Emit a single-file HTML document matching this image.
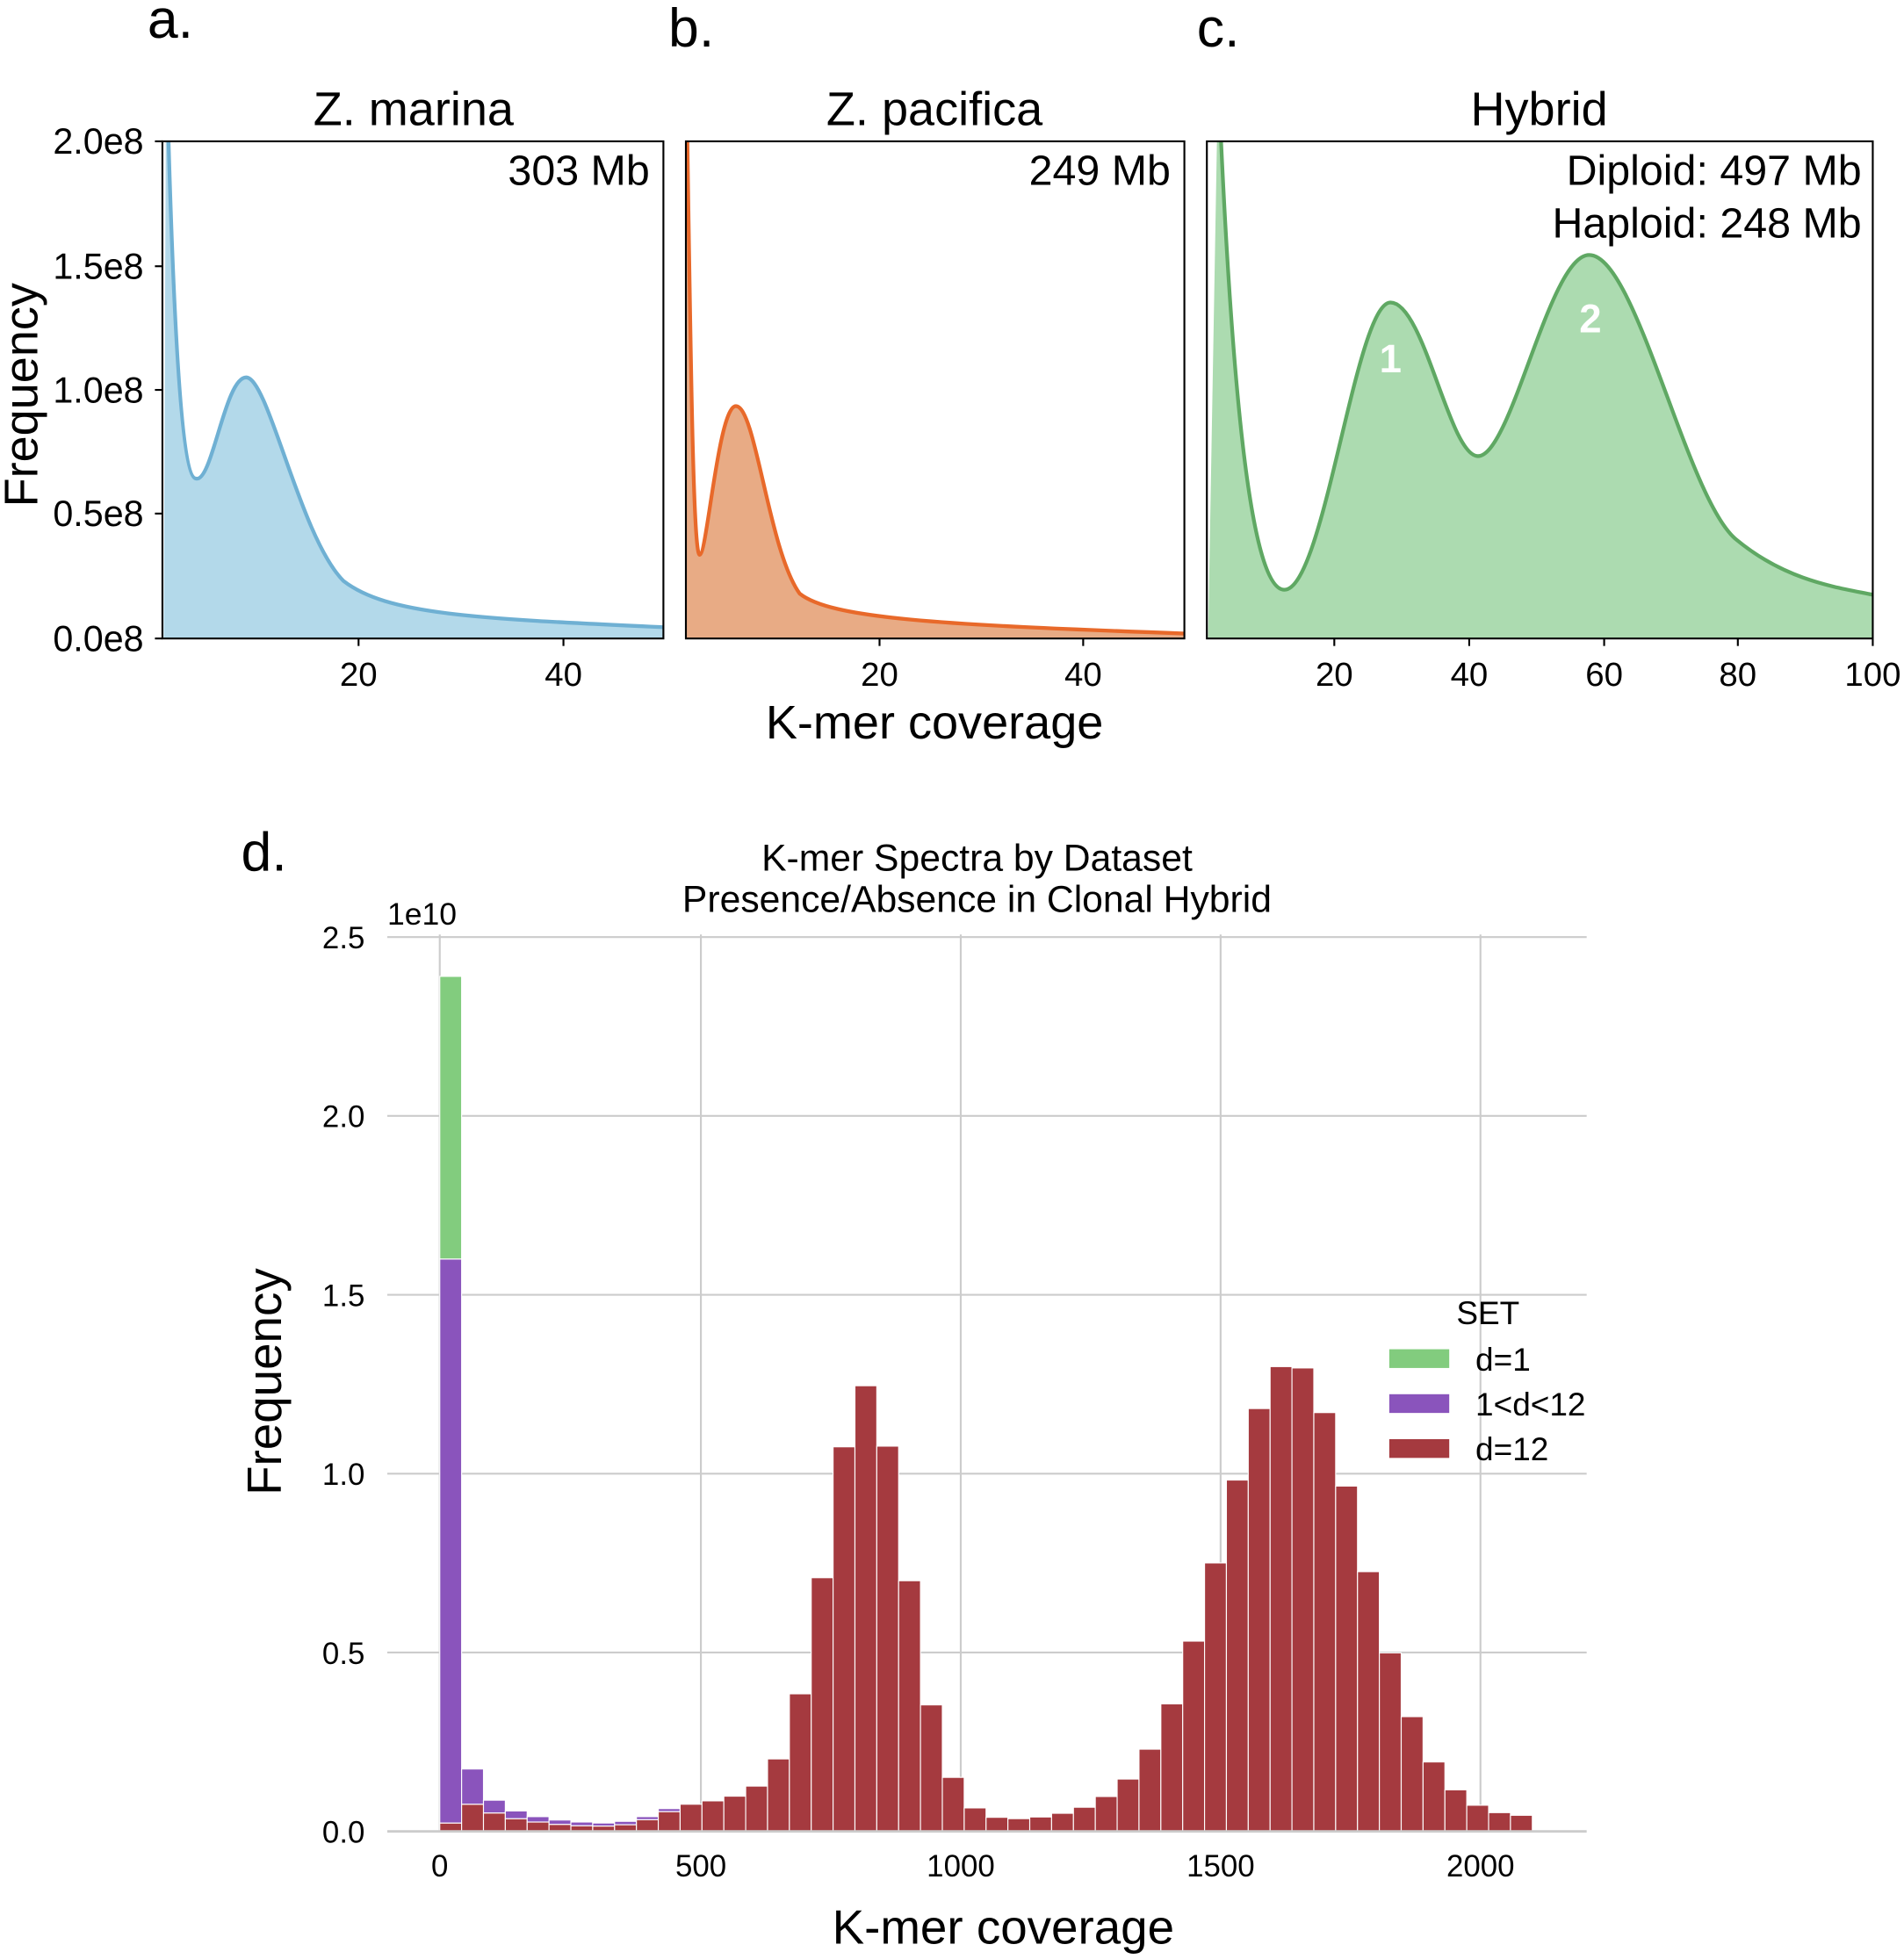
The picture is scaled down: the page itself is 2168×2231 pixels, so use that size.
<!DOCTYPE html>
<html><head><meta charset="utf-8"><style>
html,body{margin:0;padding:0;background:#fff;}
svg{display:block;font-family:"Liberation Sans",sans-serif;}
</style></head><body>
<svg id="s" width="2168" height="2231" viewBox="0 0 1524 1568" xmlns="http://www.w3.org/2000/svg">
<defs>
<clipPath id="ca"><rect x="130" y="113" width="401" height="398"/></clipPath>
<clipPath id="cb"><rect x="549" y="113" width="399" height="398"/></clipPath>
<clipPath id="cc"><rect x="966" y="113" width="533" height="398"/></clipPath>
</defs>
<rect width="1524" height="1568" fill="#fff"/>
<text x="118" y="30" font-size="44">a.</text>
<text x="535" y="37" font-size="44">b.</text>
<text x="958" y="37" font-size="44">c.</text>
<text x="193" y="697" font-size="44">d.</text>
<text x="331" y="100" font-size="38" text-anchor="middle">Z. marina</text>
<text x="748" y="100" font-size="38" text-anchor="middle">Z. pacifica</text>
<text x="1232" y="100" font-size="38" text-anchor="middle">Hybrid</text>
<g clip-path="url(#ca)">
<path d="M133,40 C138,250 145,383 157,383 C170,386 180,302 197,302 C215,302 240,430 275,465 C310,492 380,495 531,502 L531,511 L131,511 Z" fill="#b3d9ea" stroke="none"/>
<path d="M133,40 C138,250 145,383 157,383 C170,386 180,302 197,302 C215,302 240,430 275,465 C310,492 380,495 531,502" fill="none" stroke="#6fb0d3" stroke-width="3"/>
</g>
<rect x="130" y="113" width="401" height="398" fill="none" stroke="#000" stroke-width="1.5"/>
<text x="520" y="148" font-size="34" text-anchor="end">303 Mb</text>
<g clip-path="url(#cb)">
<path d="M550,100 C553,300 555,444 560,444 C566,444 575,325 589,325 C605,325 615,440 640,475 C665,495 750,500 948,507 L948,511 L549,511 Z" fill="#e8ab85"/>
<path d="M550,100 C553,300 555,444 560,444 C566,444 575,325 589,325 C605,325 615,440 640,475 C665,495 750,500 948,507" fill="none" stroke="#e8692a" stroke-width="3"/>
</g>
<rect x="549" y="113" width="399" height="398" fill="none" stroke="#000" stroke-width="1.5"/>
<text x="937" y="148" font-size="34" text-anchor="end">249 Mb</text>
<g clip-path="url(#cc)">
<path d="M975,60 C985,300 1000,472 1028,472 C1060,472 1085,242 1113,242 C1140,242 1160,365 1183,365 C1210,365 1240,204 1272,204 C1310,204 1350,400 1390,432 C1430,465 1470,470 1499,476 L1499,511 L967,511 Z" fill="#acdbb0"/>
<path d="M975,60 C985,300 1000,472 1028,472 C1060,472 1085,242 1113,242 C1140,242 1160,365 1183,365 C1210,365 1240,204 1272,204 C1310,204 1350,400 1390,432 C1430,465 1470,470 1499,476" fill="none" stroke="#5fa863" stroke-width="3"/>
</g>
<rect x="966" y="113" width="533" height="398" fill="none" stroke="#000" stroke-width="1.5"/>
<text x="1490" y="148" font-size="34" text-anchor="end">Diploid: 497 Mb</text>
<text x="1490" y="190" font-size="34" text-anchor="end">Haploid: 248 Mb</text>
<text x="1113" y="298" font-size="32" font-weight="bold" fill="#fff" text-anchor="middle">1</text>
<text x="1273" y="266" font-size="32" font-weight="bold" fill="#fff" text-anchor="middle">2</text>
<g font-size="29" text-anchor="end">
<text x="115" y="123">2.0e8</text><text x="115" y="223">1.5e8</text><text x="115" y="322">1.0e8</text><text x="115" y="421">0.5e8</text><text x="115" y="521">0.0e8</text>
</g>
<g stroke="#000" stroke-width="1.5">
<line x1="124" y1="113" x2="130" y2="113"/><line x1="124" y1="213" x2="130" y2="213"/><line x1="124" y1="312" x2="130" y2="312"/><line x1="124" y1="411" x2="130" y2="411"/><line x1="124" y1="511" x2="130" y2="511"/>
<line x1="287" y1="511" x2="287" y2="517"/><line x1="451" y1="511" x2="451" y2="517"/>
<line x1="704" y1="511" x2="704" y2="517"/><line x1="867" y1="511" x2="867" y2="517"/>
<line x1="1068" y1="511" x2="1068" y2="517"/><line x1="1176" y1="511" x2="1176" y2="517"/><line x1="1284" y1="511" x2="1284" y2="517"/><line x1="1391" y1="511" x2="1391" y2="517"/><line x1="1499" y1="511" x2="1499" y2="517"/>
</g>
<g font-size="27" text-anchor="middle">
<text x="287" y="549">20</text><text x="451" y="549">40</text>
<text x="704" y="549">20</text><text x="867" y="549">40</text>
<text x="1068" y="549">20</text><text x="1176" y="549">40</text><text x="1284" y="549">60</text><text x="1391" y="549">80</text><text x="1499" y="549">100</text>
</g>
<text transform="translate(30,316) rotate(-90)" font-size="38" text-anchor="middle">Frequency</text>
<text x="748" y="591" font-size="38" text-anchor="middle">K-mer coverage</text>
<text x="782" y="697" font-size="30" text-anchor="middle">K-mer Spectra by Dataset</text>
<text x="782" y="730" font-size="30" text-anchor="middle">Presence/Absence in Clonal Hybrid</text>
<text x="310" y="740" font-size="25">1e10</text>
<g id="grid" stroke="#cccccc" stroke-width="1.5"></g>
<g id="bars"></g>
<line x1="310" y1="1466" x2="1270" y2="1466" stroke="#cccccc" stroke-width="2"/>
<g font-size="24.5" text-anchor="end" id="yt"></g>
<g font-size="24.5" text-anchor="middle">
<text x="352" y="1502">0</text><text x="561" y="1502">500</text><text x="769" y="1502">1000</text><text x="977" y="1502">1500</text><text x="1185" y="1502">2000</text>
</g>
<text transform="translate(225,1106) rotate(-90)" font-size="38.5" text-anchor="middle">Frequency</text>
<text x="803" y="1556" font-size="38.5" text-anchor="middle">K-mer coverage</text>
<text x="1191" y="1060" font-size="26" text-anchor="middle">SET</text>
<rect x="1112" y="1080" width="48" height="15" fill="#82cc7e"/>
<rect x="1112" y="1116" width="48" height="15" fill="#8a54bc"/>
<rect x="1112" y="1152" width="48" height="15" fill="#a53a3f"/>
<text x="1181" y="1097" font-size="26">d=1</text>
<text x="1181" y="1133" font-size="26">1&lt;d&lt;12</text>
<text x="1181" y="1169" font-size="26">d=12</text>
</svg>
<script>
(function(){
var NS="http://www.w3.org/2000/svg";
function el(p,t,a){var e=document.createElementNS(NS,t);for(var k in a)e.setAttribute(k,a[k]);p.appendChild(e);return e;}
var g=document.getElementById('grid');
for(var i=0;i<=5;i++){var y=1466-i*143.2;if(i>0)el(g,'line',{x1:310,x2:1270,y1:y,y2:y});}
[352,561,769,977,1185].forEach(function(x){el(g,'line',{x1:x,x2:x,y1:748,y2:1466});});
var yt=document.getElementById('yt');
['0.0','0.5','1.0','1.5','2.0','2.5'].forEach(function(s,i){var t=el(yt,'text',{x:292,y:1466-i*143.2+9});t.textContent=s;});
var d12=[1503,1447,1473,1490,1500,1507,1511,1512,1508,1493,1469,1447,1437,1423,1393,1312,1118,772,382,200,380,781,1151,1367,1458,1486,1490,1485,1474,1456,1424,1372,1283,1148,961,728,481,268,143,147,280,499,754,996,1186,1321,1404,1450,1472,1480];
var pur={0:null,1:1342,2:1435,3:1467,4:1484,5:1494,6:1500,7:1503,8:1498,9:1484,10:1460};
function Y(z){var v=(1528-z)/1066;return 1466-v*286.4;}
var b=document.getElementById('bars');var w=17.49;
for(var i=0;i<50;i++){
 var x=352+i*w;var top=Y(d12[i]);
 el(b,'rect',{x:x,y:top,width:w,height:1466-top,fill:'#a53a3f',stroke:'#fff','stroke-width':0.8});
 if(i===0){
  var p=1466-1.60*286.4,gq=1466-2.39*286.4;
  el(b,'rect',{x:x,y:p,width:w,height:top-p,fill:'#8a54bc',stroke:'#fff','stroke-width':0.8});
  el(b,'rect',{x:x,y:gq,width:w,height:p-gq,fill:'#82cc7e',stroke:'#fff','stroke-width':0.8});
 } else if(pur[i]){
  var py=Y(pur[i]);if(py<top)el(b,'rect',{x:x,y:py,width:w,height:top-py,fill:'#8a54bc',stroke:'#fff','stroke-width':0.8});
 }
}
})();
</script>
</body></html>
